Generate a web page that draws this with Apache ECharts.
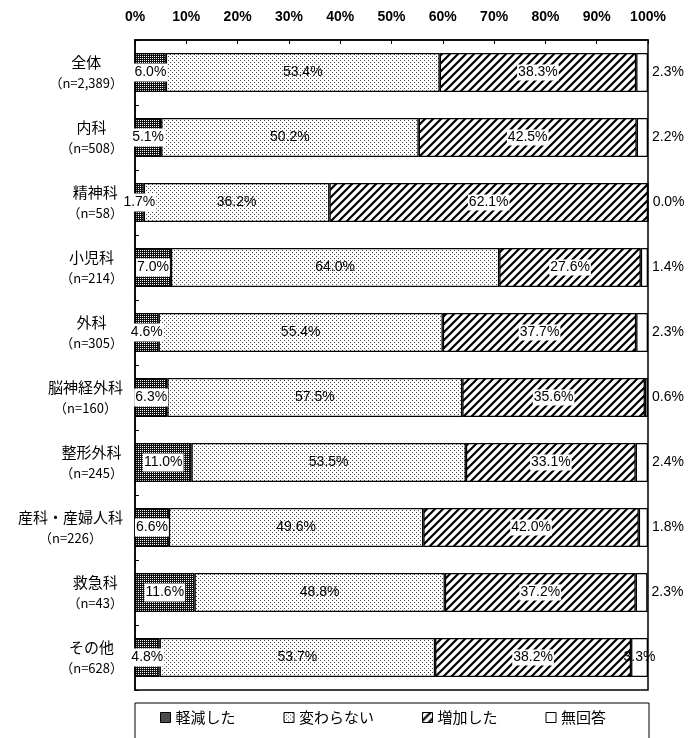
<!DOCTYPE html>
<html><head><meta charset="utf-8">
<script src="https://cdn.jsdelivr.net/npm/echarts@6/dist/echarts.min.js"></script>
<style>html,body{margin:0;padding:0;background:#fff}#c{width:688px;height:738px}</style>
</head><body><div id="c"></div>
<script>
const categories = ['全体','内科','精神科','小児科','外科','脳神経外科','整形外科','産科・産婦人科','救急科','その他'];
const sampleSizes = ['2,389','508','58','214','305','160','245','226','43','628'];
const seriesNames = ['軽減した','変わらない','増加した','無回答'];
const reduced   = [6.0, 5.1, 1.7, 7.0, 4.6, 6.3, 11.0, 6.6, 11.6, 4.8];
const unchanged = [53.4, 50.2, 36.2, 64.0, 55.4, 57.5, 53.5, 49.6, 48.8, 53.7];
const increased = [38.3, 42.5, 62.1, 27.6, 37.7, 35.6, 33.1, 42.0, 37.2, 38.2];
const noAnswer  = [2.3, 2.2, 0.0, 1.4, 2.3, 0.6, 2.4, 1.8, 2.3, 3.3];
const xTickLabels = ['0%','10%','20%','30%','40%','50%','60%','70%','80%','90%','100%'];

function makePattern(size, draw) {
  const c = document.createElement('canvas');
  c.width = size; c.height = size;
  const g = c.getContext('2d');
  draw(g, size);
  return { image: c, repeat: 'repeat' };
}
const darkPat = makePattern(2, (g) => {
  g.fillStyle = '#111'; g.fillRect(0, 0, 2, 2);
  g.fillStyle = '#fff'; g.fillRect(0, 0, 1, 1);
});
const dotPat = makePattern(4, (g) => {
  g.fillStyle = '#fff'; g.fillRect(0, 0, 4, 4);
  g.fillStyle = '#444'; g.fillRect(0, 0, 1, 1); g.fillRect(2, 2, 1, 1);
});
const hatchPat = makePattern(8, (g, s) => {
  g.fillStyle = '#fff'; g.fillRect(0, 0, s, s);
  g.strokeStyle = '#000'; g.lineWidth = 2.2;
  g.beginPath();
  g.moveTo(-1, s + 1); g.lineTo(s + 1, -1);
  g.moveTo(-1, 1); g.lineTo(1, -1);
  g.moveTo(s - 1, s + 1); g.lineTo(s + 1, s - 1);
  g.stroke();
});
const whitePat = '#fff';

const fmt = (p) => p.value.toFixed(1) + '%';
const numFont = '"Liberation Sans", Arial, sans-serif';
const baseLabel = { show: true, formatter: fmt, color: '#000', fontSize: 14, fontFamily: numFont };

function mkSeries(name, data, color, label) {
  return {
    name, type: 'bar', stack: 'total', data, barCategoryGap: '40%',
    itemStyle: { color, borderColor: '#000', borderWidth: 1.3 },
    label: Object.assign({}, baseLabel, label),
    emphasis: { disabled: true }
  };
}

const noAnswerData = noAnswer.map((v, i) => i === categories.length - 1
  ? { value: v, label: { position: 'inside' } } : v);

const chart = echarts.init(document.getElementById('c'), null, { renderer: 'canvas' });
chart.setOption({
  animation: false,
  backgroundColor: '#fff',
  grid: { left: 135, right: 40, top: 40, bottom: 48, show: true, borderColor: '#000', borderWidth: 1.5, backgroundColor: 'transparent' },
  xAxis: {
    type: 'value', position: 'top', min: 0, max: 100, interval: 10,
    axisLine: { show: true, lineStyle: { color: '#000', width: 1.5 } },
    axisTick: { show: true, inside: true, length: 4, lineStyle: { color: '#000' } },
    splitLine: { show: false },
    axisLabel: { formatter: (v) => xTickLabels[Math.round(v / 10)], color: '#000', fontSize: 14, fontWeight: 'bold', fontFamily: numFont, margin: 16 }
  },
  yAxis: {
    type: 'category', inverse: true, data: categories,
    axisLine: { show: true, lineStyle: { color: '#000', width: 1.5 } },
    axisTick: { show: true, inside: true, length: 4, lineStyle: { color: '#000' } },
    axisLabel: {
      margin: 12, color: '#000',
      formatter: (v, i) => '{a|' + v + '}\n{b|（n=' + sampleSizes[i] + '）}',
      rich: {
        a: { fontSize: 15, lineHeight: 21, align: 'center', fontFamily: '"Noto Sans CJK JP", sans-serif', color: '#000' },
        b: { fontSize: 13, lineHeight: 21, align: 'center', fontFamily: '"Noto Sans CJK JP", sans-serif', color: '#000' }
      }
    }
  },
  legend: {
    data: seriesNames, left: 135, top: 703,
    padding: [7, 43, 15, 25], itemGap: 48,
    borderColor: '#000', borderWidth: 1,
    icon: 'rect', itemWidth: 10, itemHeight: 10,
    itemStyle: { borderColor: '#000', borderWidth: 1 },
    textStyle: { fontSize: 15, color: '#000', fontFamily: '"Noto Sans CJK JP", sans-serif' }
  },
  series: [
    mkSeries(seriesNames[0], reduced, darkPat, { position: 'inside', backgroundColor: '#fff', padding: [2, 1] }),
    mkSeries(seriesNames[1], unchanged, dotPat, { position: 'inside' }),
    mkSeries(seriesNames[2], increased, hatchPat, { position: 'inside', backgroundColor: '#fff', padding: [1, 1] }),
    mkSeries(seriesNames[3], noAnswerData, whitePat, { position: 'right', distance: 4 })
  ]
});
</script></body></html>
